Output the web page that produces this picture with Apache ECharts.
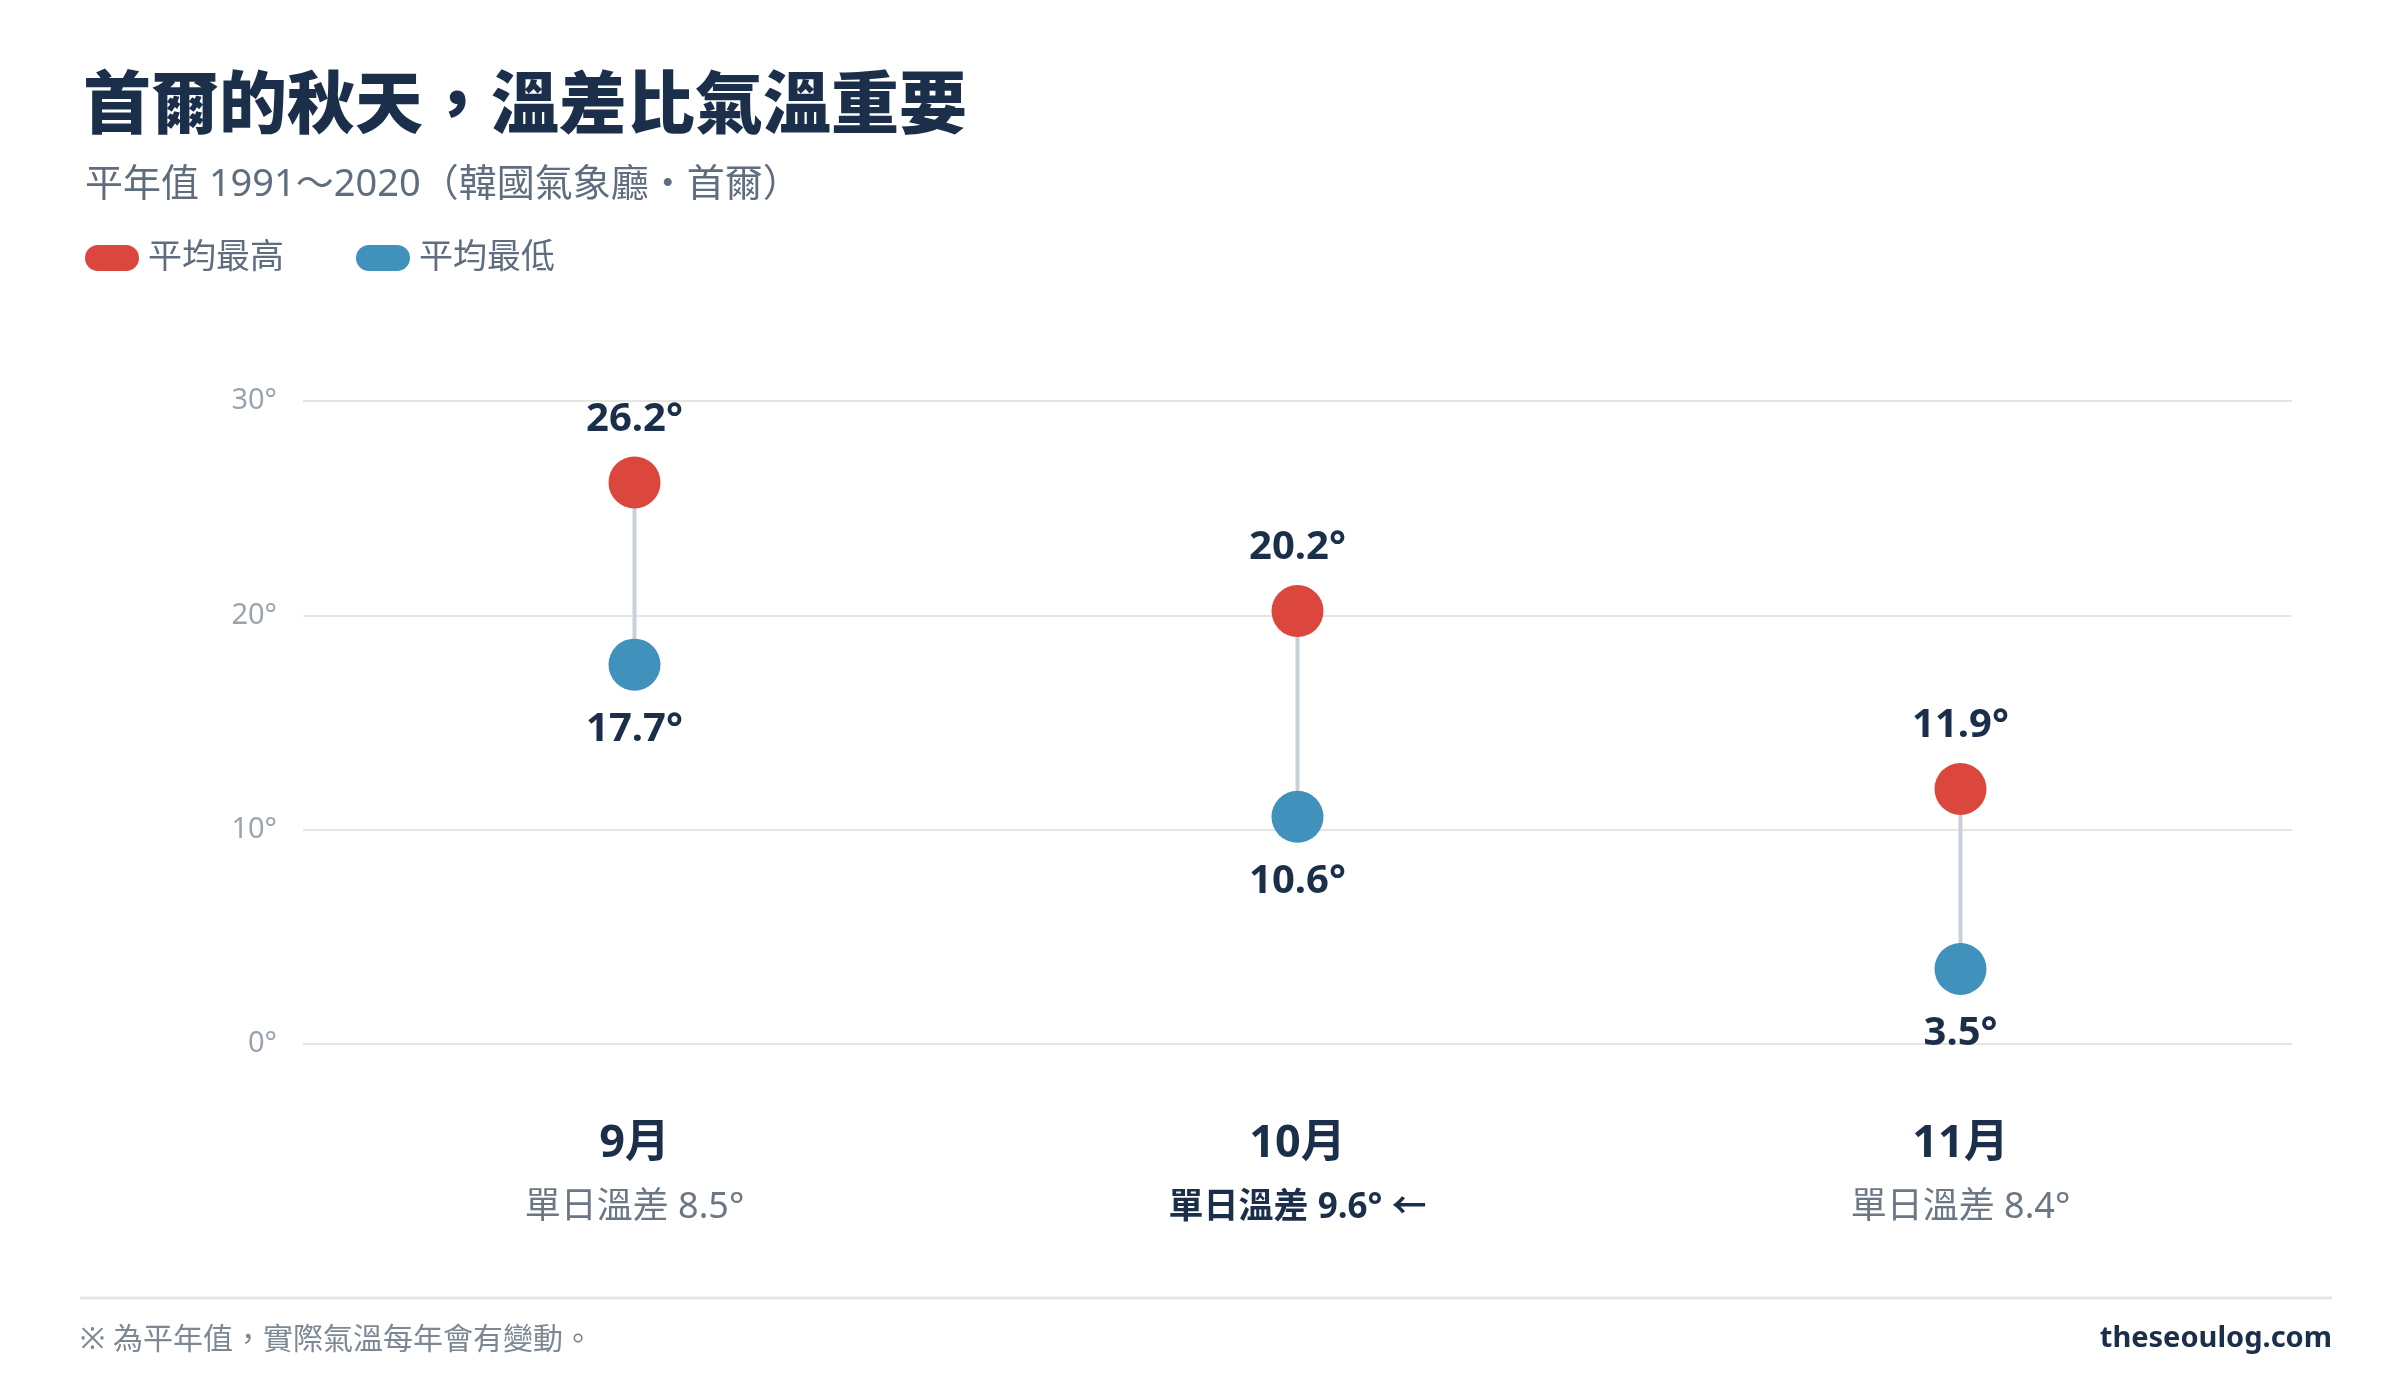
<!DOCTYPE html>
<html lang="zh-Hant">
<head>
    <meta charset="UTF-8">
    <title>首爾的秋天，溫差比氣溫重要</title>
    <script type="text/javascript" src="https://cdn.jsdelivr.net/npm/echarts@6/dist/echarts.min.js"></script>
    <style>
        html, body { margin: 0; padding: 0; background: #fff; }
        #main { width: 2400px; height: 1400px; }
    </style>
</head>
<body>
<div id="main"></div>
<script type="text/javascript">
    // 資料
    var months = ['9月', '10月', '11月'];
    var highs = [26.2, 20.2, 11.9];
    var lows = [17.7, 10.6, 3.5];
    var diffs = [8.5, 9.6, 8.4];
    var yTicks = [0, 10, 20, 30];

    var FONT = "'Noto Sans', 'Noto Sans CJK TC', sans-serif";
    var NAVY = '#1b2f4b';
    var GRAY = '#6b7785';
    var RED = '#db473c';
    var BLUE = '#4191bd';

    // 溫差最大的月份加粗
    var maxIdx = diffs.indexOf(Math.max.apply(null, diffs));

    var chart = echarts.init(document.getElementById('main'));

    var pill = 'path://M13,0 H41 A13,13 0 0 1 41,26 H13 A13,13 0 0 1 13,0 Z';

    var option = {
        backgroundColor: '#ffffff',
        textStyle: { fontFamily: FONT },
        title: [{
            text: '首爾的秋天，溫差比氣溫重要',
            left: 78,
            top: 70,
            textStyle: { fontSize: 68, fontWeight: 900, color: NAVY, fontFamily: FONT }
        }, {
            text: '平年值 1991～2020（韓國氣象廳・首爾）',
            left: 80,
            top: 161,
            textStyle: { fontSize: 38, fontWeight: 'normal', color: '#5f6d7e', fontFamily: FONT }
        }],
        legend: {
            left: 80,
            top: 236,
            icon: pill,
            itemWidth: 54,
            itemHeight: 26,
            itemGap: 72,
            textStyle: { fontSize: 34, color: '#5f6d7e', fontFamily: FONT, padding: [0, 0, 0, 4] },
            data: ['平均最高', '平均最低']
        },
        grid: { left: 303, right: 108, top: 401, bottom: 356, containLabel: false },
        xAxis: {
            type: 'category',
            data: months,
            boundaryGap: true,
            axisLine: { show: false },
            axisTick: { show: false },
            axisLabel: {
                margin: 68,
                formatter: function (value, idx) {
                    var d = '單日溫差 ' + diffs[idx].toFixed(1) + '°';
                    if (idx === maxIdx) {
                        return '{m|' + value + '}\n{dh|' + d + ' ←}';
                    }
                    return '{m|' + value + '}\n{d|' + d + '}';
                },
                rich: {
                    m: { fontSize: 45, fontWeight: 'bold', color: NAVY, lineHeight: 64, fontFamily: FONT },
                    d: { fontSize: 36, color: GRAY, lineHeight: 64, fontFamily: FONT },
                    dh: { fontSize: 35, fontWeight: 'bold', color: NAVY, lineHeight: 64, fontFamily: FONT }
                }
            }
        },
        yAxis: {
            type: 'value',
            min: yTicks[0],
            max: yTicks[yTicks.length - 1],
            interval: 10,
            axisLine: { show: false },
            axisTick: { show: false },
            axisLabel: {
                margin: 26,
                fontSize: 29,
                color: '#9aa4b0',
                fontFamily: FONT,
                formatter: '{value}°'
            },
            splitLine: { lineStyle: { color: '#e6e6e1', width: 2 } }
        },
        series: [{
            // 高低之間的連線
            name: 'range',
            type: 'custom',
            silent: true,
            z: 1,
            data: months.map(function (m, i) { return [i, lows[i], highs[i]]; }),
            encode: { x: 0, y: [1, 2] },
            renderItem: function (params, api) {
                var p1 = api.coord([api.value(0), api.value(1)]);
                var p2 = api.coord([api.value(0), api.value(2)]);
                return {
                    type: 'line',
                    shape: { x1: p1[0], y1: p1[1], x2: p2[0], y2: p2[1] },
                    style: { stroke: '#c8d0d8', lineWidth: 4 }
                };
            }
        }, {
            name: '平均最高',
            type: 'scatter',
            z: 3,
            symbolSize: 52,
            itemStyle: { color: RED, opacity: 1 },
            data: highs,
            label: {
                show: true,
                position: 'top',
                distance: 17,
                fontSize: 40,
                fontWeight: 'bold',
                color: NAVY,
                fontFamily: FONT,
                formatter: function (p) { return p.value.toFixed(1) + '°'; }
            }
        }, {
            name: '平均最低',
            type: 'scatter',
            z: 3,
            symbolSize: 52,
            itemStyle: { color: BLUE, opacity: 1 },
            data: lows,
            label: {
                show: true,
                position: 'bottom',
                distance: 19,
                fontSize: 40,
                fontWeight: 'bold',
                color: NAVY,
                fontFamily: FONT,
                formatter: function (p) { return p.value.toFixed(1) + '°'; }
            }
        }],
        graphic: [{
            type: 'line',
            shape: { x1: 80, y1: 1298, x2: 2332, y2: 1298 },
            style: { stroke: '#e6e6e1', lineWidth: 3 }
        }, {
            type: 'text',
            left: 80,
            top: 1325,
            style: {
                text: '※ 為平年值，實際氣溫每年會有變動。',
                fontSize: 30,
                fill: '#7d8894',
                fontFamily: FONT
            }
        }, {
            type: 'text',
            right: 68,
            top: 1324,
            style: {
                text: 'theseoulog.com',
                fontSize: 29,
                fontWeight: 'bold',
                fill: NAVY,
                fontFamily: FONT
            }
        }]
    };

    chart.setOption(option);
</script>
</body>
</html>
